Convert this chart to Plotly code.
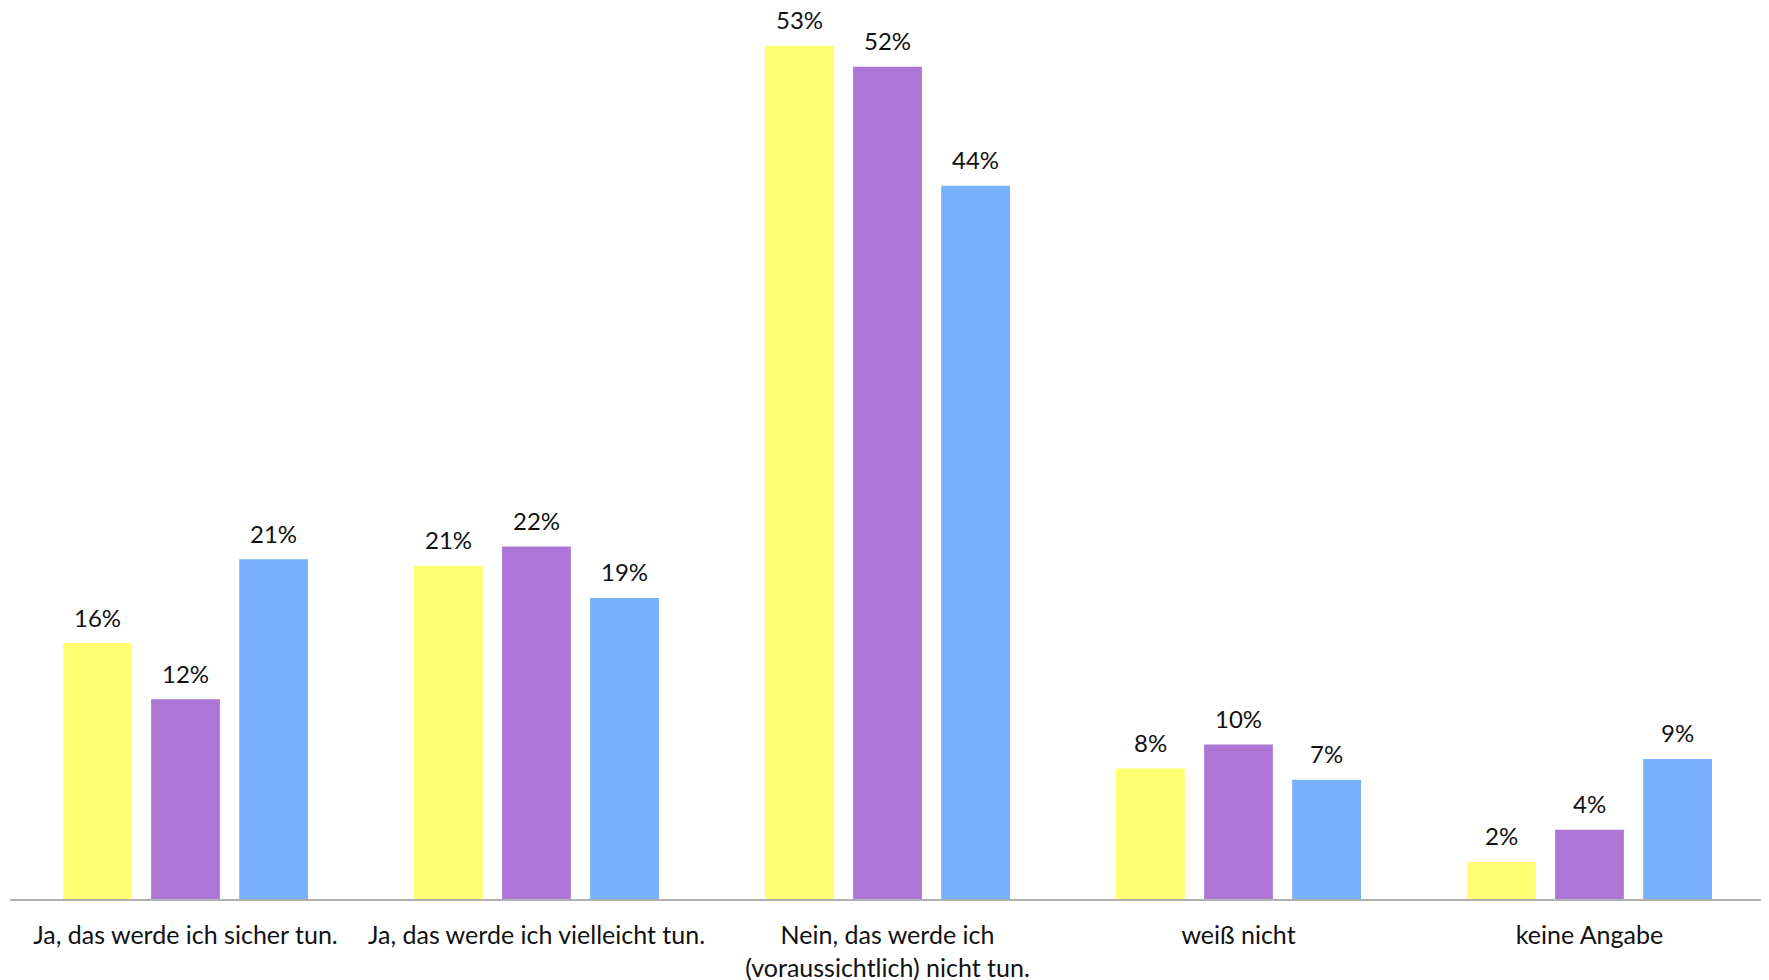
import plotly.graph_objects as go

categories = [
    "Ja, das werde ich sicher tun.",
    "Ja, das werde ich vielleicht tun.",
    "Nein, das werde ich<br>(voraussichtlich) nicht tun.",
    "weiß nicht",
    "keine Angabe",
]
series_a = [15.9, 20.7, 53.0, 8.1, 2.3]
series_b = [12.4, 21.9, 51.7, 9.6, 4.3]
series_c = [21.1, 18.7, 44.3, 7.4, 8.7]
series_names = ["A", "B", "C"]
colors = ["#FFFF70", "#AD76D6", "#78B0FA"]

FONT = "Lato, 'Noto Sans', sans-serif"
BARGAP = 0.247
BARGROUPGAP = 0.219

fig = go.Figure()
for name, vals, col in zip(series_names, [series_a, series_b, series_c], colors):
    fig.add_trace(go.Bar(
        x=categories, y=vals, name=name,
        marker=dict(color=col, line=dict(width=0)),
        textposition="none",
        cliponaxis=False,
        hoverinfo="x+y",
        offsetgroup=name,
    ))

# the page adds an 8px body margin, so the figure is 8px smaller on each axis
fig.update_layout(
    width=1761, height=972,
    margin=dict(l=2, r=4, t=0, b=81, autoexpand=False),
    paper_bgcolor="white", plot_bgcolor="white",
    barmode="group", bargap=BARGAP, bargroupgap=BARGROUPGAP,
    showlegend=False,
    font=dict(family=FONT, size=25, color="#111111"),
)

# data labels above bars, centred on each bar of the group
n = len(series_names)
slot = (1 - BARGAP) / n
for i, vals in enumerate([series_a, series_b, series_c]):
    for j, v in enumerate(vals):
        xpos = j + slot * (i - (n - 1) / 2)
        fig.add_annotation(
            x=xpos, y=v, xref="x", yref="y",
            text=f"{v:.0f}%", showarrow=False,
            yanchor="middle", yshift=26,
            font=dict(family=FONT, size=24, color="#111111"),
        )

fig.update_xaxes(
    type="category", automargin=False,
    showline=True, linecolor="#AFAFAF", linewidth=2,
    showgrid=False, ticks="", ticklabelstandoff=13,
    tickfont=dict(family=FONT, size=25, color="#111111"),
)
fig.update_yaxes(
    range=[0, 891 / 16.1], visible=False, showgrid=False, zeroline=False,
)
fig.write_html("out.html")
